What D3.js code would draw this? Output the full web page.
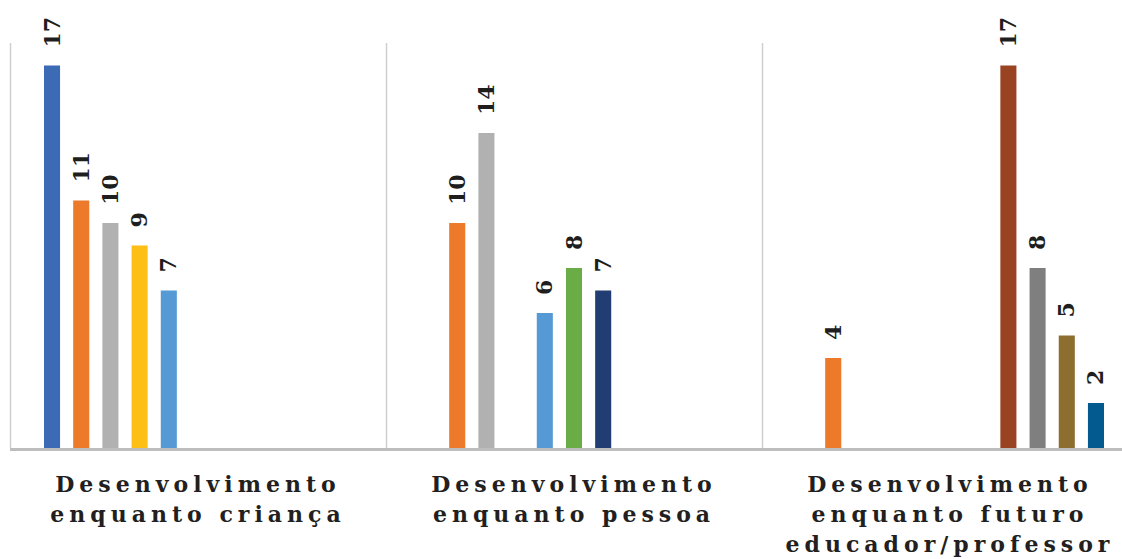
<!DOCTYPE html>
<html><head><meta charset="utf-8">
<script src="https://cdn.jsdelivr.net/npm/d3@7"></script>
<style>body{margin:0;background:#fff}svg{display:block}</style>
</head><body>
<svg id="c" width="1122" height="559"></svg>
<script>
const categories = [
  ["Desenvolvimento","enquanto criança"],
  ["Desenvolvimento","enquanto pessoa"],
  ["Desenvolvimento","enquanto futuro","educador/professor"]
];
const seriesNames = ["s1","s2","s3","s4","s5","s6","s7","s8","s9","s10","s11"];
const seriesColors = ["#3D6AB5","#EC7A2A","#B1B1B1","#FDBE16","#559AD4","#6AAC46","#213D73","#9A4322","#7F7F7F","#8E6E2F","#025A8E"];
const s1 = [17, null, null];
const s2 = [11, 10, 4];
const s3 = [10, 14, null];
const s4 = [9, null, null];
const s5 = [7, 6, null];
const s6 = [null, 8, null];
const s7 = [null, 7, null];
const s8 = [null, null, 17];
const s9 = [null, null, 8];
const s10 = [null, null, 5];
const s11 = [null, null, 2];
const seriesValues = [s1,s2,s3,s4,s5,s6,s7,s8,s9,s10,s11];
const yMax = 18;

const svg = d3.select("#c");
const catIdx = categories.map((d,i)=>i);
const x0 = d3.scaleBand().domain(catIdx).range([10, 1138]).padding(0);
const x1 = d3.scaleBand().domain(seriesNames).range([34, 342]).paddingInner(0.45).paddingOuter(0);
const y = d3.scaleLinear().domain([0, yMax]).range([448, 43]);

svg.append("g").selectAll("line").data(catIdx).join("line")
  .attr("x1", d=>x0(d)+0.5).attr("x2", d=>x0(d)+0.5)
  .attr("y1", y(yMax)).attr("y2", y(0))
  .attr("stroke", "#d0d0d0").attr("stroke-width", 1.5);

const groups = svg.append("g").selectAll("g").data(catIdx).join("g")
  .attr("transform", d=>`translate(${x0(d)},0)`);

const cells = groups.selectAll("g.bar").data(ci => seriesNames.map((s,si)=>({s, si, v: seriesValues[si][ci]})).filter(d=>d.v!=null))
  .join("g").attr("class","bar");

cells.append("rect")
  .attr("x", d=>x1(d.s)).attr("width", x1.bandwidth())
  .attr("y", d=>y(d.v)).attr("height", d=>y(0)-y(d.v))
  .attr("fill", d=>seriesColors[d.si]);

cells.append("text")
  .attr("transform", d=>`translate(${x1(d.s)+x1.bandwidth()/2+7.5},${y(d.v)-18}) rotate(-90)`)
  .attr("font-family", "DejaVu Serif").attr("font-weight", "bold").attr("font-size", 22)
  .attr("fill", "#1e1e1e").attr("text-anchor", "start")
  .text(d=>d.v);

svg.append("line").attr("x1", 10).attr("x2", 1122).attr("y1", y(0)+1.5).attr("y2", y(0)+1.5)
  .attr("stroke", "#bdbdbd").attr("stroke-width", 3);

const lab = svg.append("g").selectAll("text").data(catIdx).join("text")
  .attr("text-anchor","middle")
  .attr("font-family","DejaVu Serif").attr("font-weight","bold").attr("font-size",22)
  .attr("letter-spacing","5px").attr("fill","#231f20");
lab.each(function(ci){
  const t = d3.select(this);
  categories[ci].forEach((line,li)=>{
    t.append("tspan").attr("x", x0(ci)+x0.bandwidth()/2).attr("y", 492+li*30).text(line);
  });
});
</script>
</body></html>
